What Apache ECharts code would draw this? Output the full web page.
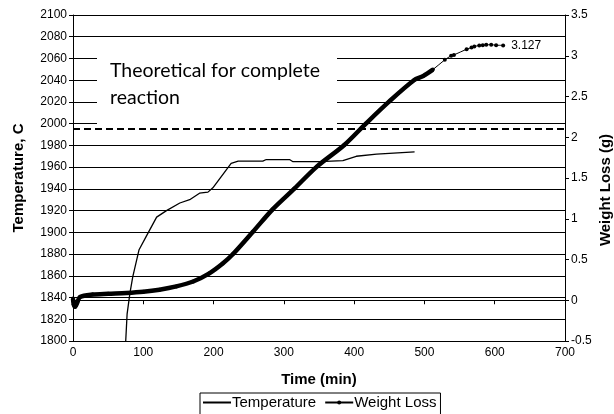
<!DOCTYPE html>
<html>
<head>
<meta charset="utf-8">
<script src="https://cdn.jsdelivr.net/npm/echarts@6/dist/echarts.min.js"></script>
<style>
  html, body { margin: 0; padding: 0; background: #fff; }
  #chart { width: 614px; height: 414px; }
</style>
</head>
<body>
<div id="chart"></div>
<script>
// temperature trace (min, deg C)
const tempTime = [75, 77, 81, 85, 94, 104, 119, 133, 152, 166, 180, 192, 199, 225, 235, 270, 275, 308, 313, 351, 384, 403, 432, 486];
const tempValue = [1800, 1825, 1844, 1859, 1884, 1896, 1914, 1920, 1927, 1930, 1936, 1937, 1941, 1963.5, 1965.5, 1965.5, 1967, 1967, 1965, 1965, 1966, 1970, 1972, 1974];

// weight loss trace (min, g)
const wlTime = [0, 1, 3, 6, 10, 28, 50, 76, 100, 123, 147, 171, 194, 213, 228, 256, 284, 315, 347, 386, 417, 450, 486, 498, 512, 529, 538, 542, 560, 567, 571, 578, 583, 588, 595, 602, 612];
const wlValue = [0.02, -0.05, -0.08, -0.03, 0.04, 0.07, 0.08, 0.09, 0.105, 0.13, 0.17, 0.23, 0.33, 0.45, 0.57, 0.84, 1.115, 1.37, 1.64, 1.905, 2.17, 2.44, 2.705, 2.75, 2.83, 2.95, 3.0, 3.01, 3.08, 3.10, 3.115, 3.125, 3.13, 3.135, 3.135, 3.13, 3.127];
const denseUntil = 512; // markers merge into a solid thick line up to here

const theoretical = 2.1;
const finalLabel = '3.127';

const xTicks = { min: 0, max: 700, interval: 100 };
const tempTicks = { min: 1800, max: 2100, interval: 20 };
const wlTicks = { min: -0.5, max: 3.5, interval: 0.5 };

const tempData = tempTime.map((t, i) => [t, tempValue[i]]);
const wlData = wlTime.map((t, i) => [t, wlValue[i]]);
const wlDense = wlData.filter(d => d[0] <= denseUntil);

const font = 'Liberation Sans, Arial, sans-serif';
const chart = echarts.init(document.getElementById('chart'));

chart.setOption({
  backgroundColor: '#fff',
  animation: false,
  textStyle: { fontFamily: font, color: '#000' },
  grid: { left: 73, right: 49, top: 15, bottom: 73, containLabel: false },
  legend: {
    left: 200, top: 393,
    data: [
      { name: 'Temperature', icon: 'path://M0,0H28V2H0Z' },
      { name: 'Weight Loss' },
    ],
    borderColor: '#000', borderWidth: 1, borderRadius: 0,
    padding: [2, 4, 6, 3],
    itemGap: 8, itemWidth: 28, itemHeight: 5,
    textStyle: { fontSize: 15, fontFamily: font, color: '#000', padding: [0, 0, 0, -4] },
  },
  xAxis: {
    type: 'value',
    ...xTicks,
    name: 'Time (min)',
    nameLocation: 'middle',
    nameGap: 31,
    nameTextStyle: { fontSize: 15, fontWeight: 'bold', color: '#000' },
    axisLine: { lineStyle: { color: '#000', width: 1 } },
    axisTick: { length: 4, lineStyle: { color: '#000' } },
    axisLabel: { fontSize: 12, color: '#000', margin: 6 },
    splitLine: { show: false },
  },
  yAxis: [
    {
      type: 'value',
      ...tempTicks,
      name: 'Temperature, C',
      nameLocation: 'middle',
      nameGap: 47,
      nameRotate: 90,
      nameTextStyle: { fontSize: 15, fontWeight: 'bold', color: '#000' },
      axisLine: { show: true, lineStyle: { color: '#000', width: 1 } },
      axisTick: { show: true, length: 4, lineStyle: { color: '#000' } },
      axisLabel: { fontSize: 12, color: '#000', margin: 6, formatter: (v) => String(v) },
      splitLine: { lineStyle: { color: '#000', width: 1 } },
    },
    {
      type: 'value',
      ...wlTicks,
      position: 'right',
      axisLine: { show: true, lineStyle: { color: '#000', width: 1 } },
      axisTick: { show: true, length: 4, lineStyle: { color: '#000' } },
      axisLabel: { fontSize: 12, color: '#000', margin: 6 },
      splitLine: { show: false },
    },
  ],
  graphic: [
    {
      type: 'rect', z: 1,
      shape: { x: 97, y: 45, width: 240, height: 80 },
      style: { fill: '#fff' },
    },
    {
      type: 'text', z: 2, left: 110, top: 57,
      style: {
        text: 'Theoretical for complete\nreaction',
        fontFamily: 'Lato, Open Sans, sans-serif', fontSize: 19.5, lineHeight: 27, fill: '#000',
      },
    },
    {
      type: 'text', z: 2, x: 606, y: 190, rotation: Math.PI / 2,
      style: {
        text: 'Weight Loss (g)',
        fontFamily: font, fontSize: 15, fontWeight: 'bold', fill: '#000',
        align: 'center', verticalAlign: 'middle',
      },
    },
  ],
  series: [
    {
      name: 'Temperature',
      type: 'line',
      data: tempData,
      showSymbol: false,
      symbol: 'none',
      lineStyle: { color: '#000', width: 1.3 },
      itemStyle: { color: '#000' },
      z: 3,
    },
    {
      name: 'Weight Loss',
      type: 'line',
      yAxisIndex: 1,
      data: wlData,
      smooth: 0.3,
      symbol: 'circle',
      symbolSize: 4,
      lineStyle: { color: '#000', width: 1 },
      itemStyle: { color: '#000' },
      label: {
        show: true, position: 'right', distance: 6, fontSize: 12, color: '#000',
        formatter: (p) => (p.dataIndex === wlData.length - 1 ? finalLabel : ''),
      },
      markLine: {
        silent: true,
        symbol: 'none',
        label: { show: false },
        lineStyle: { color: '#000', width: 2, type: [7, 4] },
        data: [{ yAxis: theoretical }],
      },
      z: 4,
    },
    {
      name: 'wlDense',
      type: 'line',
      yAxisIndex: 1,
      data: wlDense,
      smooth: 0.3,
      symbol: 'none',
      lineStyle: { color: '#000', width: 4.5 },
      z: 5,
    },
  ],
});
</script>
</body>
</html>
